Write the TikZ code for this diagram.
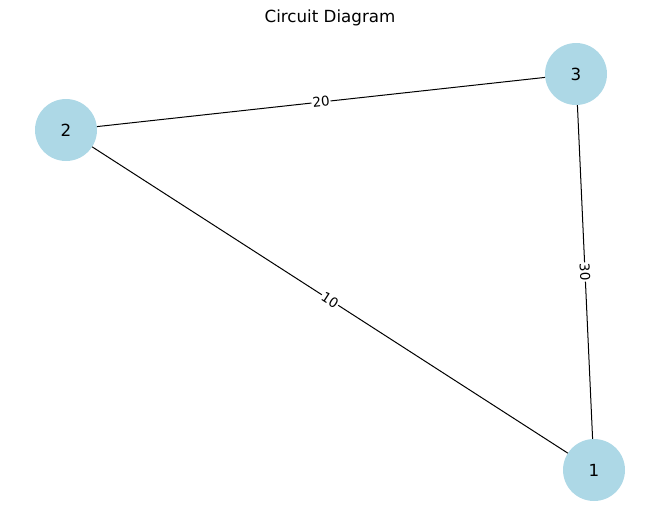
\documentclass[tikz,border=0pt]{standalone}
\usepackage{fontspec}
\setmainfont{DejaVu Sans}
\definecolor{nodeblue}{RGB}{173,216,230}
\begin{document}
\begin{tikzpicture}[x=1pt,y=-1pt,
  vert/.style={circle,fill=nodeblue,minimum size=62pt,inner sep=0pt,font=\fontsize{16.7}{20}\selectfont},
  edge/.style={draw=black,line width=1pt},
  elabel/.style={fill=white,inner sep=1pt,font=\fontsize{13.5}{16}\selectfont,sloped}]
\useasboundingbox (0,0) rectangle (660,522);
\node[font=\fontsize{16.7}{20}\selectfont] (title) at (330,18) {Circuit Diagram};
\node[vert] (n1) at (594,470) {1};
\node[vert] (n2) at (66,130) {2};
\node[vert] (n3) at (576,74) {3};
\path[edge] (n2) -- node[elabel] {10} (n1);
\path[edge] (n2) -- node[elabel] {20} (n3);
\path[edge] (n3) -- node[elabel] {30} (n1);
\end{tikzpicture}
\end{document}
